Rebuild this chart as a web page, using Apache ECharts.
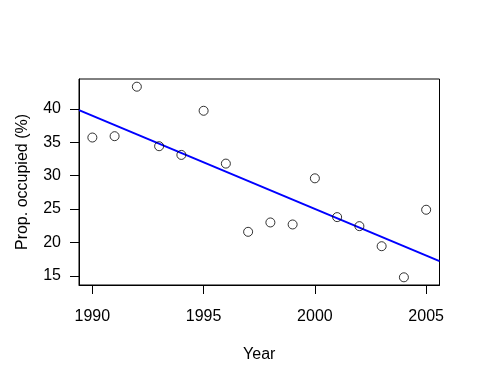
<!DOCTYPE html>
<html>
<head>
<meta charset="utf-8">
<script src="https://cdn.jsdelivr.net/npm/echarts@6/dist/echarts.min.js"></script>
<style>html,body{margin:0;padding:0;background:#fff}#c{width:480px;height:384px}</style>
</head>
<body>
<div id="c"></div>
<script>
const years = [1990,1991,1992,1993,1994,1995,1996,1997,1998,1999,2000,2001,2002,2003,2004,2005];
const occupied = [35.7,35.9,43.3,34.4,33.1,39.7,31.8,21.6,23.0,22.7,29.6,23.8,22.45,19.45,14.8,24.9];
const xTicks = [1990,1995,2000,2005];
const yTicks = [15,20,25,30,35,40];

const xMin = 1989.4, xMax = 2005.6;
const yMin = 13.65, yMax = 44.45;

// least-squares fit (as abline(lm(...)))
const n = years.length;
const mx = years.reduce((a,b)=>a+b,0)/n;
const my = occupied.reduce((a,b)=>a+b,0)/n;
let sxy=0, sxx=0;
for (let i=0;i<n;i++){ sxy += (years[i]-mx)*(occupied[i]-my); sxx += (years[i]-mx)*(years[i]-mx); }
const slope = sxy/sxx, icpt = my - slope*mx;
const fitLine = [[xMin, icpt+slope*xMin],[xMax, icpt+slope*xMax]];

const font = 'Liberation Sans, Arial, Helvetica, sans-serif';
const fs = 16;
const chart = echarts.init(document.getElementById('c'), null, {renderer:'canvas'});
chart.setOption({
  backgroundColor:'#fff',
  animation:false,
  grid:{left:79, top:79, right:40.5, bottom:99, show:true, borderColor:'#000', borderWidth:1, backgroundColor:'transparent'},
  xAxis:{
    type:'value', min:xMin, max:xMax,
    name:'Year', nameLocation:'middle', nameGap:62,
    nameTextStyle:{color:'#000', fontSize:fs, fontFamily:font},
    axisLine:{show:true, onZero:false, lineStyle:{color:'#000', width:1}},
    axisTick:{show:true, inside:false, length:9, lineStyle:{color:'#000'}, customValues:xTicks},
    axisLabel:{color:'#000', fontSize:fs, fontFamily:font, margin:24, customValues:xTicks, formatter:v=>String(v)},
    splitLine:{show:false}
  },
  yAxis:{
    type:'value', min:yMin, max:yMax,
    name:'Prop. occupied (%)', nameLocation:'middle', nameGap:48, nameRotate:90,
    nameTextStyle:{color:'#000', fontSize:fs, fontFamily:font},
    axisLine:{show:true, onZero:false, lineStyle:{color:'#000', width:1}},
    axisTick:{show:true, inside:false, length:9, lineStyle:{color:'#000'}, customValues:yTicks},
    axisLabel:{color:'#000', fontSize:fs, fontFamily:font, margin:18, customValues:yTicks, formatter:v=>String(v)},
    splitLine:{show:false}
  },
  series:[
    {type:'line', data:fitLine, symbol:'none', clip:true, lineStyle:{color:'#0000ff', width:2}, z:1},
    {type:'scatter', data:years.map((y,i)=>[y, occupied[i]]), symbol:'circle', symbolSize:9,
     itemStyle:{color:'rgba(0,0,0,0)', borderColor:'#000', borderWidth:1}, z:2}
  ]
});
</script>
</body>
</html>
